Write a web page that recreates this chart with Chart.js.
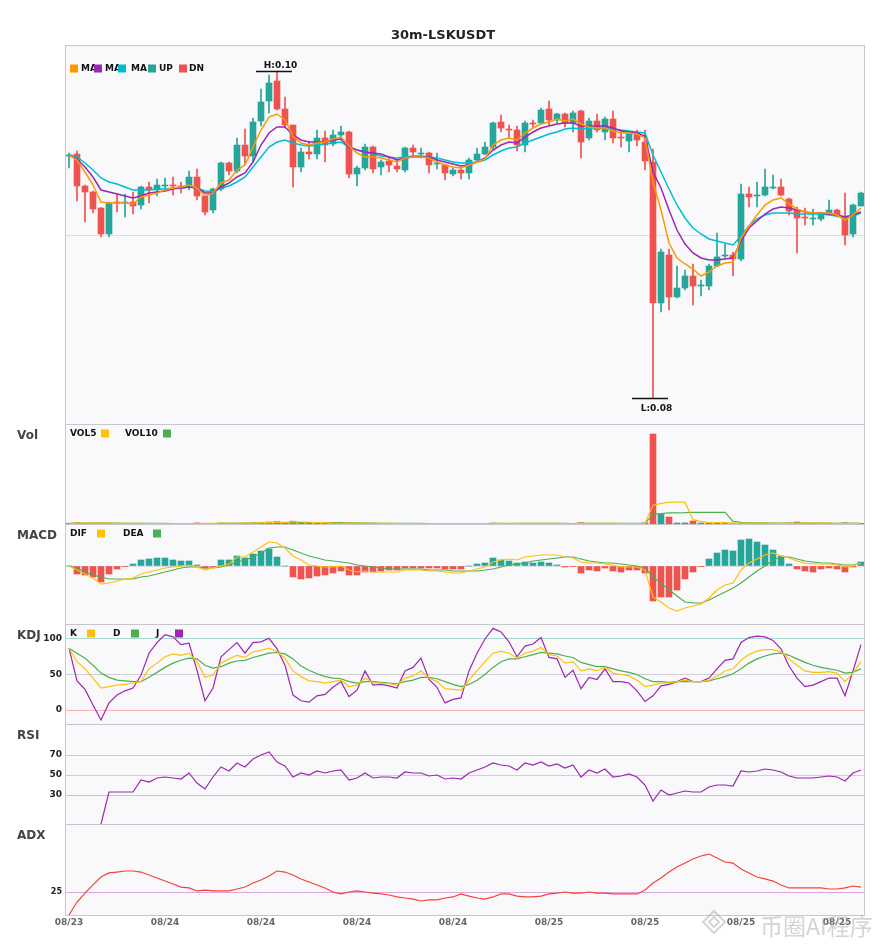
<!DOCTYPE html>
<html><head><meta charset="utf-8">
<script src="https://cdn.jsdelivr.net/npm/chart.js@4.4.1/dist/chart.umd.min.js"></script>
<style>html,body{margin:0;padding:0;background:#fff}#wrap{width:885px;height:950px;position:relative}</style>
</head><body><div id="wrap"><canvas id="c" width="885" height="950"></canvas></div>
<script>
const TITLE = '30m-LSKUSDT';
const categories = [
'08/23 18:00','08/23 18:30','08/23 19:00','08/23 19:30','08/23 20:00','08/23 20:30','08/23 21:00','08/23 21:30','08/23 22:00','08/23 22:30','08/23 23:00','08/23 23:30',
'08/24 00:00','08/24 00:30','08/24 01:00','08/24 01:30','08/24 02:00','08/24 02:30','08/24 03:00','08/24 03:30','08/24 04:00','08/24 04:30','08/24 05:00','08/24 05:30',
'08/24 06:00','08/24 06:30','08/24 07:00','08/24 07:30','08/24 08:00','08/24 08:30','08/24 09:00','08/24 09:30','08/24 10:00','08/24 10:30','08/24 11:00','08/24 11:30',
'08/24 12:00','08/24 12:30','08/24 13:00','08/24 13:30','08/24 14:00','08/24 14:30','08/24 15:00','08/24 15:30','08/24 16:00','08/24 16:30','08/24 17:00','08/24 17:30',
'08/24 18:00','08/24 18:30','08/24 19:00','08/24 19:30','08/24 20:00','08/24 20:30','08/24 21:00','08/24 21:30','08/24 22:00','08/24 22:30','08/24 23:00','08/24 23:30',
'08/25 00:00','08/25 00:30','08/25 01:00','08/25 01:30','08/25 02:00','08/25 02:30','08/25 03:00','08/25 03:30','08/25 04:00','08/25 04:30','08/25 05:00','08/25 05:30',
'08/25 06:00','08/25 06:30','08/25 07:00','08/25 07:30','08/25 08:00','08/25 08:30','08/25 09:00','08/25 09:30','08/25 10:00','08/25 10:30','08/25 11:00','08/25 11:30',
'08/25 12:00','08/25 12:30','08/25 13:00','08/25 13:30','08/25 14:00','08/25 14:30','08/25 15:00','08/25 15:30','08/25 16:00','08/25 16:30','08/25 17:00','08/25 17:30',
'08/25 18:00','08/25 18:30','08/25 19:00','08/25 19:30'];
const xTickEvery = 12;

const opens = [0.09474,0.09486,0.09294,0.09258,0.09162,0.09006,0.09198,0.09192,0.09198,0.09180,
0.09288,0.09270,0.09294,0.09300,0.09294,0.09288,0.09348,0.09234,0.09150,0.09276,
0.09432,0.09384,0.09540,0.09474,0.09684,0.09804,0.09924,0.09756,0.09660,0.09408,
0.09498,0.09486,0.09582,0.09546,0.09600,0.09618,0.09366,0.09402,0.09528,0.09408,
0.09444,0.09414,0.09390,0.09522,0.09486,0.09492,0.09426,0.09420,0.09366,0.09390,
0.09372,0.09450,0.09486,0.09528,0.09678,0.09636,0.09630,0.09540,0.09672,0.09672,
0.09756,0.09690,0.09726,0.09672,0.09744,0.09582,0.09684,0.09618,0.09696,0.09588,
0.09564,0.09612,0.09558,0.09438,0.08592,0.08880,0.08628,0.08682,0.08754,0.08694,
0.08694,0.08814,0.08874,0.08880,0.08856,0.09246,0.09234,0.09240,0.09282,0.09288,
0.09216,0.09150,0.09108,0.09096,0.09096,0.09132,0.09150,0.09114,0.09006,0.09174];
const closes = [0.09480,0.09294,0.09258,0.09156,0.09006,0.09192,0.09192,0.09198,0.09174,0.09288,
0.09270,0.09300,0.09300,0.09294,0.09288,0.09348,0.09234,0.09138,0.09276,0.09432,
0.09384,0.09540,0.09474,0.09678,0.09798,0.09912,0.09756,0.09660,0.09408,0.09498,
0.09486,0.09582,0.09540,0.09600,0.09618,0.09366,0.09402,0.09528,0.09396,0.09438,
0.09420,0.09396,0.09522,0.09498,0.09492,0.09420,0.09432,0.09372,0.09390,0.09372,
0.09450,0.09486,0.09528,0.09672,0.09642,0.09630,0.09540,0.09672,0.09666,0.09750,
0.09690,0.09726,0.09672,0.09732,0.09558,0.09684,0.09630,0.09696,0.09582,0.09582,
0.09606,0.09570,0.09444,0.08592,0.08898,0.08628,0.08682,0.08754,0.08694,0.08700,
0.08814,0.08868,0.08880,0.08856,0.09246,0.09228,0.09240,0.09288,0.09288,0.09240,
0.09144,0.09102,0.09102,0.09102,0.09132,0.09150,0.09114,0.09000,0.09180,0.09252];
const highs = [0.09492,0.09504,0.09300,0.09264,0.09165,0.09198,0.09246,0.09246,0.09258,0.09294,
0.09318,0.09336,0.09342,0.09348,0.09318,0.09384,0.09396,0.09240,0.09282,0.09438,
0.09438,0.09582,0.09636,0.09702,0.09876,0.09960,0.09984,0.09828,0.09660,0.09522,
0.09564,0.09630,0.09624,0.09630,0.09654,0.09624,0.09414,0.09546,0.09534,0.09450,
0.09468,0.09456,0.09528,0.09540,0.09522,0.09498,0.09492,0.09426,0.09402,0.09408,
0.09462,0.09522,0.09558,0.09678,0.09720,0.09660,0.09654,0.09684,0.09690,0.09762,
0.09804,0.09732,0.09732,0.09744,0.09750,0.09702,0.09726,0.09708,0.09744,0.09618,
0.09618,0.09630,0.09630,0.09516,0.08916,0.08916,0.08814,0.08790,0.08826,0.08730,
0.08826,0.09012,0.08946,0.08898,0.09306,0.09288,0.09318,0.09396,0.09360,0.09336,
0.09222,0.09168,0.09162,0.09156,0.09138,0.09210,0.09156,0.09252,0.09186,0.09258];
const lows = [0.09402,0.09204,0.09078,0.09132,0.08988,0.08988,0.09138,0.09108,0.09126,0.09156,
0.09192,0.09234,0.09264,0.09240,0.09252,0.09270,0.09210,0.09120,0.09132,0.09264,
0.09360,0.09372,0.09420,0.09438,0.09654,0.09732,0.09750,0.09642,0.09288,0.09378,
0.09456,0.09456,0.09438,0.09534,0.09570,0.09342,0.09294,0.09390,0.09372,0.09360,
0.09378,0.09378,0.09378,0.09468,0.09462,0.09372,0.09396,0.09330,0.09354,0.09336,
0.09336,0.09444,0.09480,0.09510,0.09618,0.09582,0.09504,0.09498,0.09642,0.09666,
0.09660,0.09672,0.09648,0.09618,0.09462,0.09570,0.09618,0.09570,0.09552,0.09528,
0.09498,0.09534,0.09390,0.08022,0.08538,0.08550,0.08622,0.08670,0.08580,0.08634,
0.08670,0.08808,0.08862,0.08754,0.08844,0.09168,0.09168,0.09234,0.09276,0.09234,
0.09120,0.08892,0.09060,0.09060,0.09084,0.09126,0.09108,0.08940,0.08988,0.09174];

const ma5 = [0.09480,0.09450,0.09378,0.09300,0.09198,0.09192,0.09192,0.09192,0.09186,0.09228,
0.09240,0.09252,0.09270,0.09282,0.09288,0.09300,0.09282,0.09234,0.09252,0.09312,
0.09330,0.09390,0.09420,0.09528,0.09630,0.09708,0.09726,0.09690,0.09594,0.09552,
0.09540,0.09552,0.09558,0.09576,0.09588,0.09534,0.09492,0.09468,0.09468,0.09462,
0.09450,0.09438,0.09462,0.09468,0.09468,0.09462,0.09438,0.09420,0.09408,0.09402,
0.09420,0.09438,0.09456,0.09540,0.09570,0.09582,0.09570,0.09612,0.09642,0.09666,
0.09678,0.09696,0.09684,0.09696,0.09666,0.09648,0.09642,0.09642,0.09624,0.09612,
0.09612,0.09606,0.09582,0.09318,0.09150,0.08952,0.08862,0.08826,0.08796,0.08754,
0.08778,0.08814,0.08832,0.08838,0.08982,0.09054,0.09120,0.09180,0.09210,0.09222,
0.09186,0.09156,0.09138,0.09132,0.09132,0.09132,0.09120,0.09090,0.09120,0.09162];
const ma10 = [0.09480,0.09456,0.09408,0.09348,0.09270,0.09258,0.09246,0.09234,0.09222,0.09234,
0.09252,0.09258,0.09264,0.09276,0.09282,0.09288,0.09282,0.09252,0.09252,0.09288,
0.09312,0.09348,0.09372,0.09438,0.09540,0.09612,0.09648,0.09648,0.09600,0.09570,
0.09558,0.09558,0.09558,0.09570,0.09576,0.09528,0.09510,0.09498,0.09492,0.09486,
0.09468,0.09450,0.09462,0.09468,0.09468,0.09468,0.09450,0.09438,0.09426,0.09414,
0.09420,0.09438,0.09462,0.09510,0.09540,0.09558,0.09552,0.09588,0.09618,0.09642,
0.09654,0.09666,0.09672,0.09672,0.09654,0.09654,0.09654,0.09654,0.09642,0.09624,
0.09618,0.09612,0.09594,0.09378,0.09282,0.09150,0.09030,0.08946,0.08892,0.08862,
0.08850,0.08850,0.08856,0.08862,0.08964,0.09042,0.09084,0.09126,0.09156,0.09168,
0.09162,0.09150,0.09138,0.09132,0.09132,0.09126,0.09120,0.09108,0.09120,0.09138];
const ma30 = [0.09480,0.09468,0.09432,0.09390,0.09342,0.09318,0.09306,0.09288,0.09270,0.09270,
0.09270,0.09276,0.09276,0.09282,0.09282,0.09288,0.09282,0.09264,0.09258,0.09282,
0.09294,0.09318,0.09348,0.09408,0.09468,0.09528,0.09558,0.09570,0.09552,0.09540,
0.09534,0.09540,0.09546,0.09552,0.09558,0.09528,0.09510,0.09498,0.09486,0.09474,
0.09468,0.09462,0.09468,0.09474,0.09474,0.09468,0.09462,0.09450,0.09438,0.09432,
0.09432,0.09438,0.09450,0.09480,0.09504,0.09522,0.09528,0.09552,0.09570,0.09588,
0.09606,0.09618,0.09636,0.09642,0.09636,0.09642,0.09642,0.09642,0.09636,0.09630,
0.09624,0.09618,0.09612,0.09480,0.09378,0.09276,0.09180,0.09102,0.09042,0.09006,
0.08976,0.08964,0.08952,0.08940,0.08994,0.09054,0.09096,0.09120,0.09132,0.09132,
0.09132,0.09126,0.09126,0.09126,0.09126,0.09120,0.09114,0.09102,0.09114,0.09132];

const volumes = [30,60,35,40,45,40,20,20,25,30, 20,20,15,15,15,30,55,35,30,45,
30,45,55,60,70,100,120,80,140,60, 40,45,40,30,30,60,35,30,30,20,
20,20,30,20,15,25,15,25,15,20, 30,25,25,50,35,20,30,35,20,30,
35,20,20,25,70,30,25,25,30,20, 25,25,60,4500,490,350,50,55,150,50,
40,60,30,35,60,30,35,40,25,30, 50,100,30,25,20,30,25,60,40,30];
const vol5 = [30,45,42,41,42,44,36,33,30,27, 23,23,22,20,17,19,26,30,33,39,
39,37,41,47,53,66,81,86,102,100, 88,73,65,43,37,41,39,37,37,35,
27,24,24,22,21,22,21,22,19,20, 22,23,23,30,33,31,32,34,28,27,
30,28,25,26,34,33,34,35,36,26, 25,25,32,935,1032,1096,1094,1089,219,131,
69,71,66,43,45,43,40,40,36,32, 36,49,47,47,45,41,26,32,35,37];
const vol10 = [30,45,42,41,42,42,39,37,36,35, 33,30,27,25,22,21,24,26,26,29,
30,32,36,39,43,50,56,61,71,72, 73,72,71,68,65,61,53,44,39,35,
33,31,31,30,28,25,23,23,21,21, 22,22,22,25,27,26,28,29,29,29,
29,28,28,26,30,30,30,29,30,29, 28,28,32,480,526,558,561,564,577,580,
581,584,580,134,88,56,55,54,41,39, 40,44,44,43,40,40,37,39,38,37];

const dif = [0,-0.00012,-0.00024,-0.00036,-0.00054,-0.00051,-0.00045,-0.00039,-0.00036,-0.00024,
-0.00018,-0.00012,-0.00006,-0.00003,0,0.00003,-0.00003,-0.00012,-0.00006,0,
0.00006,0.00027,0.00027,0.00042,0.00057,0.00072,0.00069,0.00054,0.00030,0.00018,
0.00003,0,-0.00003,-0.00003,0,-0.00012,-0.00018,-0.00015,-0.00018,-0.00018,
-0.00018,-0.00018,-0.00012,-0.00012,-0.00012,-0.00015,-0.00015,-0.00018,-0.00021,-0.00021,
-0.00015,-0.00009,-0.00003,0.00012,0.00018,0.00021,0.00018,0.00027,0.00030,0.00033,
0.00033,0.00033,0.00027,0.00024,0.00012,0.00009,0.00009,0.00006,0.00003,-0.00003,
-0.00003,-0.00003,-0.00012,-0.00093,-0.00108,-0.00126,-0.00135,-0.00126,-0.00120,-0.00114,
-0.00096,-0.00072,-0.00057,-0.00051,-0.00012,0.00009,0.00021,0.00033,0.00039,0.00030,
0.00024,0.00015,0.00009,0.00006,0.00006,0.00006,0.00003,-0.00003,0,0.00009];
const dea = [0,-0.00006,-0.00018,-0.00027,-0.00033,-0.00039,-0.00039,-0.00039,-0.00039,-0.00033,
-0.00030,-0.00024,-0.00018,-0.00012,-0.00006,-0.00003,-0.00003,-0.00006,-0.00006,-0.00003,
0.00003,0.00012,0.00018,0.00027,0.00039,0.00054,0.00057,0.00057,0.00048,0.00039,
0.00030,0.00024,0.00018,0.00015,0.00012,0.00009,0.00003,0,-0.00003,-0.00006,
-0.00009,-0.00009,-0.00009,-0.00009,-0.00009,-0.00012,-0.00012,-0.00012,-0.00015,-0.00015,
-0.00015,-0.00015,-0.00012,-0.00009,-0.00003,0.00003,0.00006,0.00009,0.00015,0.00018,
0.00021,0.00024,0.00027,0.00027,0.00021,0.00015,0.00012,0.00009,0.00009,0.00006,
0.00003,0,-0.00006,-0.00033,-0.00051,-0.00072,-0.00090,-0.00108,-0.00111,-0.00111,
-0.00102,-0.00090,-0.00078,-0.00066,-0.00051,-0.00033,-0.00015,0,0.00018,0.00027,
0.00027,0.00021,0.00015,0.00012,0.00009,0.00009,0.00006,0.00003,0.00003,0.00009];
const macdHist = [0,-0.00024,-0.00027,-0.00033,-0.00048,-0.00024,-0.00009,-0.00001,0.00006,0.00018,
0.00021,0.00024,0.00024,0.00018,0.00015,0.00015,0.00003,-0.00006,-0.00003,0.00018,
0.00018,0.00030,0.00024,0.00036,0.00045,0.00051,0.00027,0,-0.00033,-0.00039,
-0.00036,-0.00030,-0.00027,-0.00021,-0.00015,-0.00027,-0.00027,-0.00018,-0.00018,-0.00015,
-0.00012,-0.00012,-0.00006,-0.00006,-0.00006,-0.00006,-0.00006,-0.00009,-0.00009,-0.00009,
0,0.00006,0.00009,0.00024,0.00018,0.00015,0.00009,0.00012,0.00009,0.00012,
0.00009,0.00003,-0.00003,-0.00002,-0.00021,-0.00012,-0.00015,-0.00006,-0.00015,-0.00018,
-0.00012,-0.00012,-0.00021,-0.00105,-0.00093,-0.00093,-0.00072,-0.00039,-0.00018,-0.00002,
0.00021,0.00039,0.00048,0.00045,0.00078,0.00081,0.00072,0.00063,0.00048,0.00030,
0.00006,-0.00009,-0.00015,-0.00018,-0.00009,-0.00006,-0.00009,-0.00018,-0.00003,0.00012];

const kVals = [87,68,58,45,31,33,35,36,38,40,58,66,75,79,77,80,68,46,49,66,72,77,74,82,84,87,82,73,55,47,
41,40,38,40,42,33,35,45,38,38, 37,35,45,48,55,45,40,30,29,28,
42,55,68,80,83,80,73,80,83,88, 78,76,66,68,55,58,55,60,52,50,
48,42,33,35,38,38,40,42,40,40, 42,48,55,58,70,78,83,85,85,82,
72,63,55,53,53,54,52,40,52,68];
const dVals = [87,80,73,63,52,46,42,41,40,40,46,53,60,66,70,73,72,63,59,61,66,69,70,74,77,80,81,79,72,62,
56,51,47,45,44,40,38,40,40,39, 38,37,40,42,46,46,44,40,36,33,
36,42,50,60,68,72,72,75,78,81, 80,79,76,74,67,64,61,61,58,55,
53,50,44,40,40,39,40,40,40,40, 41,44,47,51,58,66,72,76,79,80,
77,72,67,63,60,58,56,52,53,58];
const jVals = [87,41,29,7,-14,10,21,27,31,49,80,95,106,103,92,94,56,13,31,75,85,95,80,95,96,101,86,63,21,13,
11,20,22,32,40,19,28,55,35,36, 34,31,55,60,73,43,32,10,15,17,
55,80,100,115,110,96,75,90,93,102, 74,72,46,56,30,46,43,58,40,40,
38,27,12,20,34,36,40,45,40,40, 45,58,70,72,95,102,104,103,98,86,
62,45,33,35,40,45,45,20,55,92];

const rsiVals = [null,null,null,null,1,33,33,33,33,45,43,47,48,47,46,52,42,36,48,58,54,62,58,66,70,73,63,59,48,52,
50,54,52,54,55,45,47,52,47,48, 48,47,53,52,52,49,50,46,47,46,
52,55,58,62,60,59,55,62,60,63, 59,61,57,60,48,55,52,56,48,49,
51,48,40,24,35,30,32,34,33,33, 38,40,40,39,54,53,54,56,55,53,
49,47,47,47,48,49,48,44,52,55];
const adxVals = [9.7,18.3,24.3,29.7,35.0,37.7,38.3,39.0,39.0,38.3, 36.3,34.3,32.3,30.3,28.3,27.7,25.7,26.3,25.7,25.7,
25.7,27.0,28.3,31.0,33.0,35.7,39.0,38.3,36.3,33.7, 31.7,29.7,27.7,25.0,23.7,25.0,25.7,25.0,24.3,23.7,
23.0,21.7,21.0,20.3,19.0,19.7,19.7,21.0,21.7,23.7, 22.3,21.0,20.3,21.7,23.7,23.7,22.3,21.7,21.7,22.3,
23.7,24.3,25.0,24.3,24.3,25.0,24.3,24.3,23.7,23.7, 23.7,23.7,26.3,31.0,34.3,38.3,41.7,44.3,47.0,49.0,
50.3,47.7,45.0,44.3,40.3,37.7,35.0,33.7,32.3,29.7, 27.7,27.7,27.7,27.7,27.7,27.0,27.0,27.7,29.0,28.3];

const mainGridTicks = [0.09];
const macdGridTicks = [0];
const kdjTicks = [0, 50, 100];
const rsiTicks = [30, 50, 70];
const adxTicks = [25];

const FONT = "'DejaVu Sans', sans-serif";
const UP = '#26a69a', DN = '#ef5350';
const C_MA5 = '#ff9800', C_MA10 = '#9c27b0', C_MA30 = '#00bcd4';
const C_Y = '#ffc107', C_G = '#4caf50', C_P = '#9c27b0';

const candleColors = closes.map((c, i) => c >= opens[i] ? UP : DN);
const histColors = macdHist.map(v => v >= 0 ? UP : DN);

function lineDs(label, data, axis, color, width, order) {
  return { type: 'line', label, data, yAxisID: axis, borderColor: color, backgroundColor: color,
    borderWidth: width, pointRadius: 0, tension: 0, fill: false, order: order || 0 };
}
function barDs(label, data, axis, colors, thickness, order, minLen) {
  return { type: 'bar', label, data, yAxisID: axis, backgroundColor: colors, borderWidth: 0,
    barThickness: thickness, grouped: false, order, minBarLength: minLen || 0 };
}

const datasets = [
  lineDs('MA5', ma5, 'yMain', C_MA5, 1.5, 0),
  lineDs('MA10', ma10, 'yMain', C_MA10, 1.5, 0),
  lineDs('MA30', ma30, 'yMain', C_MA30, 1.5, 0),
  barDs('body', opens.map((o, i) => [o, closes[i]]), 'yMain', candleColors, 6, 2, 1),
  barDs('wick', lows.map((l, i) => [l, highs[i]]), 'yMain', candleColors, 1, 3),
  barDs('VOL', volumes, 'yVol', candleColors, 6, 3),
  lineDs('VOL5', vol5, 'yVol', C_Y, 1.2, 0),
  lineDs('VOL10', vol10, 'yVol', C_G, 1.2, 0),
  barDs('MACD', macdHist, 'yMacd', histColors, 6, 3),
  lineDs('DIF', dif, 'yMacd', C_Y, 1.2, 0),
  lineDs('DEA', dea, 'yMacd', C_G, 1.2, 0),
  lineDs('K', kVals, 'yKdj', C_Y, 1.2, 0),
  lineDs('D', dVals, 'yKdj', C_G, 1.2, 0),
  lineDs('J', jVals, 'yKdj', C_P, 1.2, 0),
  lineDs('RSI', rsiVals, 'yRsi', C_P, 1.2, 0),
  lineDs('ADX', adxVals, 'yAdx', '#f44336', 1.2, 0)
];

function yAxis(weight, min, max, ticks, colors, showLabels, size) {
  return {
    type: 'linear', position: 'left', stack: 'panels', stackWeight: weight, min, max,
    afterBuildTicks: s => { s.ticks = ticks.map(v => ({ value: v })); },
    afterFit: s => { s.width = 65; },
    border: { display: false },
    grid: { drawTicks: false, lineWidth: 1, color: ctx => (ctx.tick && colors[ctx.tick.value]) || 'rgba(0,0,0,0)' },
    ticks: { display: showLabels, padding: 3, color: '#222', font: { family: FONT, size: size || 9, weight: 'bold' }, callback: v => String(v) }
  };
}
const TEAL_L = '#a9d9d3', GRAY_L = '#cfcfd5', PINK_L = '#f6b4b4';

const frame = {
  id: 'frame',
  beforeDraw(chart) {
    const { ctx, chartArea: a } = chart;
    ctx.save();
    ctx.fillStyle = '#ffffff'; ctx.fillRect(0, 0, chart.width, chart.height);
    ctx.fillStyle = '#f9f9fb'; ctx.fillRect(a.left, a.top, a.right - a.left, a.bottom - a.top);
    ctx.restore();
  },
  afterDatasetsDraw(chart) {
    const { ctx, chartArea: a, scales: s } = chart;
    ctx.save();
    ctx.strokeStyle = '#c6c6cc'; ctx.lineWidth = 1;
    const ys = [a.top, s.yVol.top, s.yMacd.top, s.yKdj.top, s.yRsi.top, s.yAdx.top, a.bottom];
    ctx.beginPath();
    ys.forEach(y => { const yy = Math.round(y) + 0.5; ctx.moveTo(a.left, yy); ctx.lineTo(a.right, yy); });
    ctx.moveTo(Math.round(a.left) + 0.5, a.top); ctx.lineTo(Math.round(a.left) + 0.5, a.bottom);
    ctx.moveTo(Math.round(a.right) - 0.5, a.top); ctx.lineTo(Math.round(a.right) - 0.5, a.bottom);
    ctx.stroke();
    ctx.restore();
  },
  afterDraw(chart) {
    const { ctx, scales: s } = chart;
    ctx.save();
    ctx.fillStyle = '#222'; ctx.font = 'bold 13px ' + FONT; ctx.textAlign = 'center'; ctx.textBaseline = 'alphabetic';
    ctx.fillText(TITLE, 443, 39);
    ctx.textAlign = 'left'; ctx.font = 'bold 12px ' + FONT; ctx.fillStyle = '#444';
    [['yVol', 'Vol'], ['yMacd', 'MACD'], ['yKdj', 'KDJ'], ['yRsi', 'RSI'], ['yAdx', 'ADX']]
      .forEach(([id, t]) => ctx.fillText(t, 17, s[id].top + 15));
    // legends
    ctx.font = 'bold 9px ' + FONT; ctx.textBaseline = 'middle';
    const item = (bx, color, text, tx, y) => {
      if (bx !== null) { ctx.fillStyle = color; ctx.fillRect(bx, y - 4, 8, 8); }
      if (text) { ctx.fillStyle = '#111'; ctx.fillText(text, tx, y + 0.5); }
    };
    const my = s.yMain.top + 23.5;
    item(70, C_MA5, 'MA', 81, my); item(94, C_MA10, 'MA', 105, my); item(118, C_MA30, 'MA', 131, my);
    item(148, UP, 'UP', 159, my); item(179, DN, 'DN', 189, my);
    const vy = s.yVol.top + 9.5;
    item(null, null, 'VOL5', 70, vy); item(101, C_Y, null, 0, vy); item(null, null, 'VOL10', 125, vy); item(163, C_G, null, 0, vy);
    const dy = s.yMacd.top + 9.5;
    item(null, null, 'DIF', 70, dy); item(97, C_Y, null, 0, dy); item(null, null, 'DEA', 123, dy); item(153, C_G, null, 0, dy);
    const ky = s.yKdj.top + 9.5;
    item(null, null, 'K', 70, ky); item(87, C_Y, null, 0, ky); item(null, null, 'D', 113, ky); item(131, C_G, null, 0, ky);
    item(null, null, 'J', 156, ky); item(175, C_P, null, 0, ky);
    // high / low markers
    let hi = 0, lo = 0;
    highs.forEach((v, i) => { if (v > highs[hi]) hi = i; });
    lows.forEach((v, i) => { if (v < lows[lo]) lo = i; });
    const hx = s.x.getPixelForValue(hi), hy = Math.round(s.yMain.getPixelForValue(highs[hi])) + 0.5;
    const lx = s.x.getPixelForValue(lo), ly = Math.round(s.yMain.getPixelForValue(lows[lo])) + 0.5;
    ctx.strokeStyle = '#111'; ctx.lineWidth = 1.3;
    ctx.beginPath(); ctx.moveTo(hx - 21, hy); ctx.lineTo(hx + 15, hy); ctx.moveTo(lx - 21, ly); ctx.lineTo(lx + 15, ly); ctx.stroke();
    ctx.fillStyle = '#111'; ctx.textAlign = 'center'; ctx.textBaseline = 'alphabetic';
    ctx.fillText('H:' + highs[hi].toFixed(2), hx + 3.5, hy - 3.5);
    ctx.fillText('L:' + lows[lo].toFixed(2), lx + 3.5, ly + 12);
    // watermark
    ctx.globalAlpha = 0.45;
    ctx.fillStyle = '#a0a0a0'; ctx.strokeStyle = '#a0a0a0'; ctx.lineWidth = 2;
    ctx.textAlign = 'left';
    ctx.font = "23px 'Noto Sans CJK SC', sans-serif";
    ctx.fillText('币圈AI程序', 760, 935);
    const d = (cx, cy, r) => { ctx.beginPath(); ctx.moveTo(cx, cy - r); ctx.lineTo(cx + r, cy); ctx.lineTo(cx, cy + r); ctx.lineTo(cx - r, cy); ctx.closePath(); ctx.stroke(); };
    d(714, 922, 11); d(714, 922, 5);
    ctx.restore();
  }
};

new Chart(document.getElementById('c'), {
  type: 'bar',
  data: { labels: categories, datasets },
  options: {
    responsive: false, animation: false, devicePixelRatio: 1, events: [],
    layout: { padding: { top: 45, right: 20, bottom: 0, left: 0 } },
    plugins: { legend: { display: false }, title: { display: false }, tooltip: { enabled: false } },
    scales: {
      x: {
        type: 'category', offset: true,
        grid: { display: false, drawTicks: false }, border: { display: false },
        afterFit: s => { s.height = 35; },
        ticks: { autoSkip: false, maxRotation: 0, minRotation: 0, padding: 2, color: '#666',
          font: { family: FONT, size: 9, weight: 'bold' },
          callback: (v, i) => (i % xTickEvery === 0 ? categories[i].slice(0, 5) : '') }
      },
      yAdx: yAxis(91, 9.667, 70.333, adxTicks, { 25: '#dca6e5' }, true, 8),
      yRsi: yAxis(100, 1, 101, rsiTicks, { 70: TEAL_L, 50: GRAY_L, 30: PINK_L }, true, 9),
      yKdj: yAxis(100, -19.7, 121.1, kdjTicks, { 100: TEAL_L, 50: GRAY_L, 0: PINK_L }, true, 9),
      yMacd: yAxis(100, -0.00174, 0.00126, macdGridTicks, { 0: '#dddde2' }, false),
      yVol: yAxis(100, 0, 5000, [], {}, false),
      yMain: yAxis(379, 0.07866, 0.10140, mainGridTicks, { 0.09: '#dddde2' }, false)
    }
  },
  plugins: [frame]
});
</script></body></html>
